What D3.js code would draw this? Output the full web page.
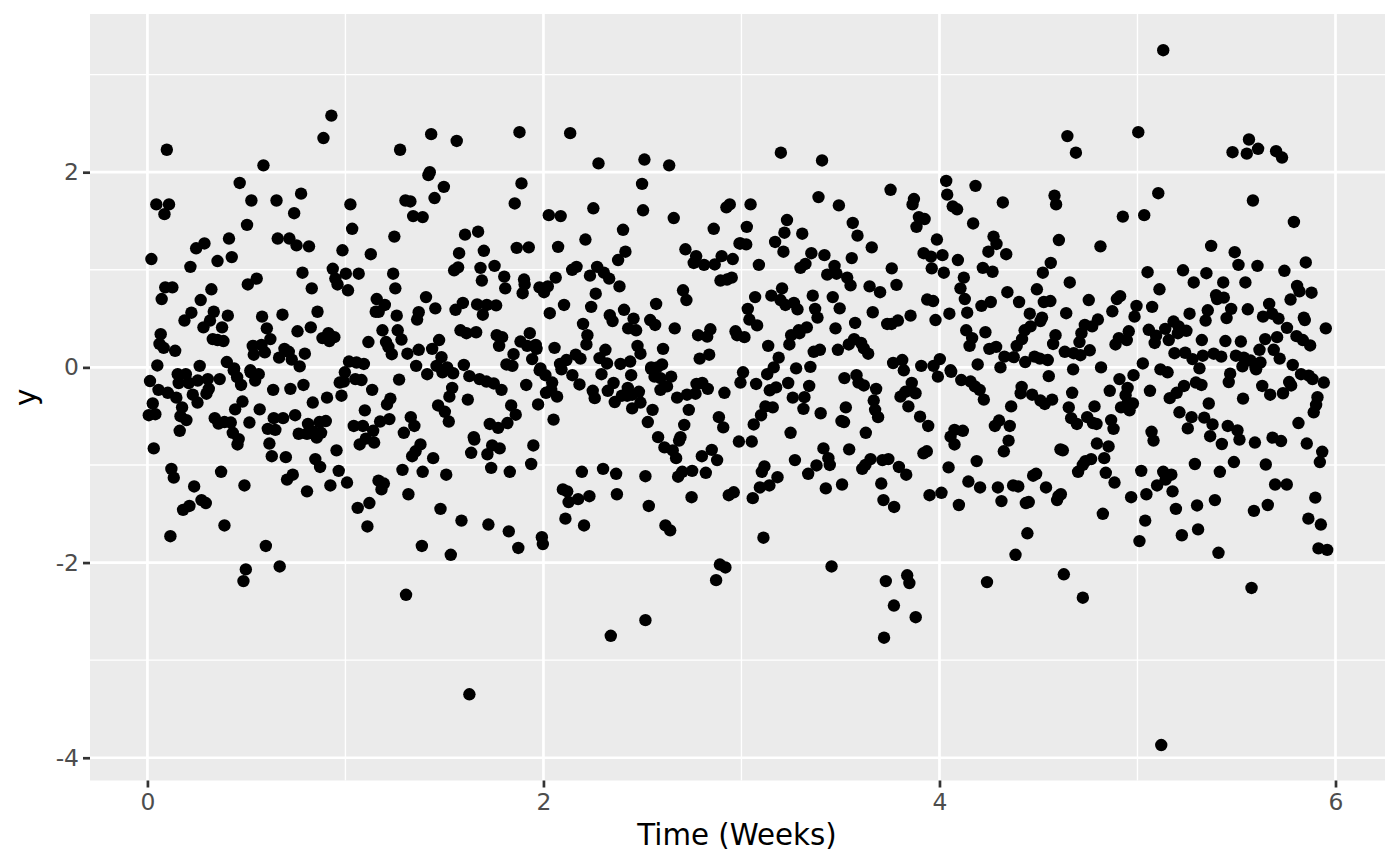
<!DOCTYPE html>
<html>
<head>
<meta charset="utf-8">
<script src="https://cdn.jsdelivr.net/npm/d3@7"></script>
<style>
  html, body { margin: 0; padding: 0; background: #fff; }
  svg { display: block; }
</style>
</head>
<body>
<svg id="chart" width="1400" height="866"></svg>
<script>
const xMajor = [0, 2, 4, 6];
const xMinor = [1, 3, 5];
const yMajor = [-4, -2, 0, 2];
const yMinor = [-3, -1, 1, 3];
const xTitle = "Time (Weeks)";
const yTitle = "y";

// [time in weeks, y], week by week-ish
const upperLeft = [[.098,2.23],[.889,2.35],[1.276,2.23],[.586,2.07],[.466,1.89],[.045,1.67],[.109,1.67],[.086,1.57],[.525,1.71],[.652,1.71],[.776,1.78],[.741,1.58],[1.025,1.67],[1.303,1.71],[1.328,1.70],[1.342,1.55],[1.034,1.42],[.503,1.46],[.412,1.32],[.288,1.27],[.246,1.22],[.02,1.11],[.354,1.09],[.426,1.13],[.217,1.03],[.658,1.32],[.717,1.32],[.753,1.25],[.816,1.24],[1.247,1.34],[.985,1.20],[1.128,1.16],[.936,1.01],[1.002,.96],[1.067,.96],[.783,.97],[1.241,.96],[1.252,.81],[.949,.91],[.96,.85],[1.013,.79],[.83,.81],[.552,.91],[.507,.85],[.126,.82],[.09,.82],[.072,.70],[.323,.80],[.269,.69],[.222,.56],[.187,.48],[.335,.57],[.316,.48],[.283,.41],[.406,.53],[.377,.41],[.579,.52],[.682,.54],[.603,.40],[.621,.29],[.859,.57],[.825,.41],[.758,.37],[.914,.35],[.884,.30],[.919,.27],[.944,.31],[.067,.34],[.061,.24],[.082,.20],[.14,.17],[.33,.29],[.354,.28],[.384,.27],[.532,.22],[.576,.23],[.537,.13],[.593,.155],[.692,.19],[.714,.16],[.665,.10],[.729,.08],[.795,.14],[.769,.01],[1.158,.70],[1.199,.64],[1.153,.57],[1.168,.57],[1.259,.53],[1.37,.565],[1.362,.49],[1.187,.38],[1.264,.38],[1.283,.285],[1.205,.26],[1.217,.21],[1.234,.135],[1.313,.14],[1.37,.18],[1.116,.26],[1.018,.06],[1.056,.05],[1.093,.035],[1.357,.015],[.05,.02],[.264,.015],[.401,.055],[.438,-.01],[.52,-.03],[.929,2.58]];

const lowerLeft = [[.013,-.14],[.056,-.23],[.103,-.26],[.146,-.31],[.153,-.07],[.194,-.07],[.158,-.16],[.209,-.16],[.254,-.135],[.305,-.12],[.31,-.22],[.298,-.27],[.229,-.28],[.253,-.36],[.175,-.41],[.027,-.37],[.007,-.49],[.04,-.48],[.167,-.50],[.197,-.54],[.163,-.65],[.032,-.83],[.365,-.12],[.436,-.03],[.453,-.10],[.473,-.18],[.522,-.05],[.562,-.07],[.544,-.135],[.48,-.35],[.443,-.43],[.567,-.43],[.635,-.23],[.722,-.22],[.788,-.18],[.835,-.36],[.907,-.31],[.98,-.29],[.997,-.05],[.971,-.155],[.992,-.145],[1.05,-.12],[1.081,-.13],[1.135,-.23],[1.271,-.125],[1.227,-.32],[1.21,-.38],[1.098,-.44],[1.222,-.53],[1.175,-.555],[1.14,-.65],[1.042,-.60],[1.088,-.60],[1.33,-.51],[1.348,-.60],[1.295,-.67],[1.103,-.73],[1.072,-.79],[1.145,-.77],[.34,-.52],[.359,-.575],[.389,-.56],[.421,-.565],[.515,-.565],[.431,-.67],[.461,-.735],[.455,-.79],[.638,-.52],[.685,-.52],[.746,-.49],[.608,-.63],[.646,-.64],[.616,-.78],[.628,-.91],[.699,-.92],[.764,-.68],[.811,-.58],[.806,-.68],[.84,-.66],[.869,-.56],[.901,-.55],[.877,-.67],[.855,-.72],[.955,-.85],[.848,-.94],[.872,-1.02],[.966,-1.06],[.924,-1.21],[1.008,-1.18],[.806,-1.27],[.734,-1.10],[.705,-1.15],[.49,-1.21],[.372,-1.07],[.121,-1.04],[.133,-1.13],[.236,-1.22],[.273,-1.36],[.295,-1.39],[.212,-1.42],[.18,-1.46],[.389,-1.62],[.116,-1.73],[.598,-1.83],[.497,-2.07],[.668,-2.04],[.485,-2.19],[1.121,-1.39],[1.062,-1.44],[1.111,-1.63],[1.167,-1.16],[1.194,-1.19],[1.182,-1.25],[1.288,-1.05],[1.318,-1.30],[1.39,-1.07],[1.379,-.79],[1.354,-.86],[1.337,-.91],[1.386,-1.83],[1.306,-2.33]];

const upperMidLeft = [[1.433,2.39],[1.562,2.32],[1.879,2.41],[2.135,2.40],[2.278,2.09],[2.51,2.13],[2.635,2.07],[2.498,1.88],[1.426,2.0],[1.419,1.97],[1.497,1.85],[1.45,1.735],[1.889,1.885],[1.855,1.68],[1.39,1.54],[2.027,1.56],[2.087,1.55],[2.252,1.63],[2.503,1.61],[2.658,1.53],[2.941,1.67],[2.924,1.64],[2.86,1.42],[2.402,1.41],[2.212,1.31],[2.414,1.185],[2.377,1.10],[1.604,1.36],[1.67,1.39],[1.574,1.17],[1.699,1.195],[1.569,1.025],[1.549,.995],[1.682,1.02],[1.753,1.04],[1.689,.89],[1.802,.93],[1.807,.81],[1.865,1.225],[1.926,1.23],[2.074,1.235],[1.902,.90],[1.905,.85],[1.895,.76],[1.98,.82],[2.022,.83],[2.003,.77],[2.062,.92],[2.167,1.03],[2.145,1.0],[2.235,.94],[2.271,1.03],[2.305,.97],[2.332,.91],[2.384,.83],[2.264,.755],[2.104,.64],[2.241,.62],[2.032,.555],[2.407,.59],[2.335,.535],[2.349,.475],[2.2,.445],[2.222,.33],[2.217,.235],[2.056,.20],[1.931,.35],[2.455,.50],[2.428,.40],[2.468,.38],[2.539,.485],[2.564,.435],[2.569,.65],[2.663,.40],[2.705,.79],[2.722,.69],[2.717,1.21],[2.771,1.14],[2.759,1.07],[2.811,1.05],[2.865,1.055],[2.9,1.14],[2.956,1.11],[2.99,1.27],[2.894,.89],[2.927,.90],[2.951,.92],[1.407,.72],[1.454,.605],[1.593,.66],[1.556,.59],[1.665,.645],[1.714,.64],[1.761,.635],[1.694,.54],[1.581,.38],[1.611,.35],[1.66,.36],[1.764,.33],[1.791,.31],[1.776,.22],[1.884,.265],[1.918,.22],[1.961,.23],[1.965,.19],[1.943,.085],[1.849,.135],[1.813,.03],[1.843,.015],[1.473,.28],[1.438,.19],[1.485,.105],[1.598,.025],[1.46,.015],[1.514,0],[1.985,-.01],[2.084,.035],[2.116,.075],[2.163,.13],[2.187,.09],[2.283,.095],[2.313,.18],[2.321,.04],[2.389,.035],[2.438,.06],[2.475,.22],[2.49,.14],[2.604,.19],[2.544,0],[2.599,.03],[2.789,.09],[2.837,.13],[2.781,.33],[2.827,.315],[2.843,.39],[2.970,.37],[2.978,.33]];

const lowerMidLeft = [[1.413,-.07],[1.49,-.05],[1.544,-.06],[1.626,-.09],[1.677,-.12],[1.712,-.145],[1.749,-.165],[1.788,-.23],[1.913,-.18],[1.539,-.21],[1.525,-.30],[1.618,-.33],[1.468,-.39],[1.502,-.455],[1.522,-.555],[1.837,-.39],[1.86,-.485],[1.818,-.57],[1.771,-.62],[1.729,-.58],[1.973,-.38],[2.051,-.535],[1.981,-.03],[2.01,-.08],[2.044,-.155],[2.013,-.26],[2.039,-.23],[2.069,-.30],[2.091,-.02],[2.146,-.08],[2.182,-.175],[2.249,-.24],[2.259,-.315],[2.293,-.07],[2.443,-.08],[2.354,-.16],[2.325,-.24],[2.36,-.355],[2.426,-.21],[2.396,-.29],[2.423,-.29],[2.448,-.28],[2.482,-.25],[2.49,-.36],[2.448,-.42],[2.551,-.435],[2.527,-.56],[2.544,-.015],[2.574,0],[2.561,-.095],[2.591,-.11],[2.645,-.095],[2.624,-.195],[2.591,-.23],[2.675,-.31],[2.725,-.28],[2.768,-.27],[2.773,-.17],[2.802,-.16],[2.83,-.22],[2.914,-.26],[2.734,-.435],[2.886,-.51],[2.908,-.615],[2.711,-.59],[2.692,-.715],[2.685,-.75],[2.579,-.715],[2.611,-.82],[2.653,-.85],[2.670,-.93],[2.80,-.91],[2.85,-.845],[2.877,-.95],[2.820,-1.08],[2.751,-1.06],[2.701,-1.07],[2.68,-1.12],[2.515,-1.115],[2.367,-1.09],[2.301,-1.04],[2.194,-1.07],[2.12,-1.27],[2.098,-1.25],[2.127,-1.38],[2.175,-1.35],[2.232,-1.32],[2.371,-1.30],[2.532,-1.42],[2.748,-1.33],[2.961,-1.28],[2.936,-1.31],[2.111,-1.55],[2.205,-1.62],[2.616,-1.62],[2.640,-1.67],[2.891,-2.02],[2.919,-2.05],[2.872,-2.18],[1.648,-.715],[1.651,-.74],[1.635,-.875],[1.741,-.80],[1.779,-.83],[1.717,-.89],[1.949,-.80],[1.938,-.99],[1.736,-1.03],[1.830,-1.07],[1.443,-.93],[1.509,-1.10],[1.48,-1.45],[1.586,-1.57],[1.722,-1.61],[1.825,-1.68],[1.992,-1.74],[1.997,-1.81],[1.873,-1.85],[1.532,-1.92],[1.626,-3.35],[2.34,-2.75],[2.515,-2.59]];

const upperMidRight = [[3.199,2.20],[3.407,2.12],[3.389,1.745],[3.492,1.66],[3.753,1.82],[3.871,1.725],[3.864,1.67],[4.034,1.91],[4.039,1.77],[4.182,1.86],[4.32,1.69],[4.067,1.65],[4.089,1.62],[4.581,1.76],[4.589,1.67],[3.046,1.67],[3.027,1.44],[3.23,1.51],[3.217,1.38],[3.307,1.37],[3.170,1.285],[3.212,1.185],[2.995,1.27],[3.024,1.26],[3.088,1.05],[3.353,1.17],[3.323,1.06],[3.298,1.02],[3.419,1.15],[3.562,1.48],[3.586,1.35],[3.658,1.23],[3.557,1.12],[3.47,1.04],[3.433,.95],[3.48,.96],[3.534,.92],[3.551,.84],[3.647,.83],[3.7,.77],[3.759,1.015],[3.783,.845],[3.896,1.54],[3.925,1.52],[3.884,1.44],[3.987,1.31],[3.92,1.17],[3.957,1.135],[4.015,1.15],[3.961,1.015],[4.022,.97],[4.093,1.10],[4.17,1.475],[4.273,1.34],[4.288,1.265],[4.247,1.185],[4.337,1.16],[4.219,1.02],[4.268,.98],[4.123,.92],[4.106,.81],[4.128,.70],[4.562,1.07],[4.522,.97],[4.603,1.305],[4.492,.80],[4.343,.77],[4.402,.67],[4.259,.67],[4.212,.63],[4.14,.56],[4.05,.55],[3.938,.695],[3.968,.68],[3.98,.485],[3.854,.53],[3.79,.48],[3.736,.445],[3.758,.445],[3.663,.565],[3.574,.455],[3.475,.40],[3.496,.605],[3.461,.72],[3.36,.735],[3.372,.60],[3.384,.51],[3.205,.81],[3.151,.735],[3.197,.69],[3.222,.64],[3.265,.66],[3.283,.595],[3.069,.72],[3.032,.60],[3.04,.49],[3.079,.43],[3.015,.31],[3.135,.22],[3.188,.10],[3.163,0],[3.242,.235],[3.251,.33],[3.289,.38],[3.33,.41],[3.293,.35],[3.365,.16],[3.396,.18],[3.487,.18],[3.542,.235],[3.569,.29],[3.604,.25],[3.618,.195],[3.64,.14],[3.276,-.01],[3.348,.005],[3.766,.045],[3.812,.075],[3.908,.015],[3.97,.015],[4.002,.085],[4.056,-.03],[4.193,.03],[4.308,0],[4.135,.38],[4.232,.36],[4.165,.30],[4.152,.22],[4.252,.19],[4.286,.21],[4.43,.38],[4.46,.42],[4.510,.475],[4.518,.51],[4.456,.55],[4.527,.67],[4.56,.68],[4.417,.29],[4.39,.22],[4.328,.11],[4.375,.105],[4.433,.055],[4.480,.11],[4.507,.09],[4.547,.075],[4.574,.24],[4.586,.33]];

const lowerMidRight = [[3.008,-.05],[2.995,-.155],[3.074,-.17],[3.13,-.07],[3.236,-.16],[3.175,-.205],[3.143,-.235],[3.342,-.19],[3.259,-.31],[3.318,-.305],[3.313,-.425],[3.4,-.47],[3.121,-.40],[3.158,-.41],[3.099,-.49],[3.062,-.585],[2.987,-.76],[3.052,-.76],[3.248,-.67],[3.52,-.11],[3.581,-.08],[3.591,-.155],[3.618,-.185],[3.68,-.22],[3.668,-.34],[3.675,-.435],[3.69,-.51],[3.527,-.41],[3.505,-.55],[3.518,-.56],[3.628,-.67],[3.544,-.84],[3.414,-.83],[3.439,-.93],[3.446,-1.0],[3.379,-1.005],[3.27,-.95],[3.337,-1.09],[3.426,-1.24],[3.508,-1.2],[3.116,-1.015],[3.103,-1.07],[3.182,-1.125],[3.141,-1.21],[3.093,-1.23],[3.057,-1.34],[3.111,-1.745],[3.455,-2.04],[3.652,-.94],[3.626,-1.0],[3.61,-1.04],[3.712,-.95],[3.742,-.94],[3.795,-1.02],[3.832,-1.10],[3.706,-1.19],[3.717,-1.36],[3.771,-1.43],[3.919,-.88],[3.936,-.86],[3.95,-1.31],[4.01,-1.285],[4.098,-1.41],[4.046,-1.025],[4.188,-.96],[4.146,-1.17],[4.205,-1.23],[4.295,-1.23],[4.372,-1.21],[4.398,-1.22],[4.473,-1.11],[4.488,-1.09],[4.538,-1.23],[4.313,-1.37],[4.436,-1.39],[4.451,-1.38],[4.601,-1.32],[4.594,-1.36],[4.444,-1.70],[4.384,-1.92],[4.611,-.84],[4.325,-.86],[4.349,-.75],[4.355,-.6],[4.28,-.60],[4.301,-.545],[4.076,-.64],[4.056,-.71],[4.076,-.79],[4.118,-.65],[3.943,-.60],[3.902,-.505],[3.843,-.40],[3.803,-.30],[3.828,-.25],[3.86,-.16],[3.879,-.265],[3.82,-.03],[3.992,-.095],[4.059,-.045],[4.11,-.13],[4.157,-.145],[4.179,-.195],[4.203,-.23],[4.224,-.33],[4.362,-.40],[4.415,-.20],[4.41,-.265],[4.468,-.28],[4.510,-.34],[4.532,-.375],[4.569,-.33],[4.552,-.09],[3.729,-2.19],[3.837,-2.13],[3.848,-2.21],[4.24,-2.2],[3.77,-2.44],[3.72,-2.77],[3.88,-2.56]];

const upperRight = [[4.646,2.37],[4.689,2.20],[5.004,2.41],[5.563,2.335],[5.48,2.205],[5.552,2.19],[5.609,2.24],[5.7,2.215],[5.73,2.15],[5.105,1.785],[5.583,1.71],[4.926,1.545],[5.034,1.56],[5.79,1.49],[4.813,1.24],[5.372,1.245],[5.491,1.18],[5.51,1.05],[5.606,1.04],[5.85,1.075],[5.742,.99],[5.051,.975],[5.23,.995],[5.348,.965],[5.284,.87],[5.433,.87],[5.545,.87],[4.658,.87],[5.111,.80],[5.397,.74],[5.436,.715],[5.402,.70],[4.912,.73],[4.896,.70],[4.754,.69],[4.64,.555],[4.873,.575],[4.995,.63],[4.985,.52],[5.074,.62],[5.263,.55],[5.355,.585],[5.344,.48],[5.45,.505],[5.473,.60],[5.557,.595],[5.634,.52],[5.665,.65],[5.68,.55],[5.712,.50],[5.773,.695],[5.806,.835],[5.818,.78],[5.879,.765],[5.84,.51],[5.845,.485],[5.755,.405],[5.951,.40],[4.8,.49],[4.771,.42],[4.734,.435],[4.717,.35],[4.707,.26],[4.633,.16],[4.678,.145],[4.712,.125],[4.759,.175],[4.956,.37],[4.906,.30],[4.946,.28],[4.889,.235],[5.057,.385],[5.094,.325],[5.14,.395],[5.087,.25],[5.158,.28],[5.182,.47],[5.208,.42],[5.204,.35],[5.247,.375],[5.187,.145],[5.241,.15],[5.278,.085],[5.33,.12],[5.385,.14],[5.423,.11],[5.325,.28],[5.444,.27],[5.522,.265],[5.645,.29],[5.705,.31],[5.616,.18],[5.688,.18],[5.718,.09],[5.803,.32],[5.835,.28],[5.872,.225],[5.784,.025],[5.497,.12],[5.537,.10],[5.571,.07],[5.621,.05],[5.53,.01],[5.596,0],[5.027,.04],[5.116,-.02],[5.313,-.01],[4.675,-.02],[4.816,0],[5.13,3.25]];

const lowerRight = [[4.909,-.12],[4.98,-.08],[4.86,-.24],[4.95,-.21],[4.94,-.285],[5.063,-.24],[5.152,-.05],[4.67,-.26],[4.653,-.41],[4.783,-.40],[4.665,-.52],[4.694,-.58],[4.746,-.51],[4.775,-.57],[4.793,-.58],[4.867,-.54],[4.879,-.63],[4.917,-.41],[4.951,-.36],[4.977,-.37],[4.96,-.44],[4.623,-.85],[4.795,-.78],[4.854,-.81],[4.832,-.93],[4.766,-.94],[4.737,-.96],[4.724,-1.0],[4.7,-1.07],[4.84,-1.08],[4.884,-1.18],[5.019,-1.06],[5.13,-1.07],[5.171,-1.10],[5.142,-1.15],[5.099,-1.21],[5.045,-1.30],[4.968,-1.33],[5.177,-1.27],[5.194,-1.45],[5.301,-1.415],[5.391,-1.36],[5.039,-1.57],[4.825,-1.50],[5.01,-1.78],[5.224,-1.72],[5.306,-1.66],[5.409,-1.90],[4.613,-1.30],[4.628,-2.12],[4.724,-2.36],[5.576,-2.26],[5.071,-.66],[5.081,-.75],[5.163,-.315],[5.198,-.26],[5.235,-.19],[5.295,-.155],[5.323,-.18],[5.212,-.46],[5.273,-.51],[5.254,-.625],[5.337,-.515],[5.379,-.585],[5.367,-.705],[5.426,-.785],[5.36,-.37],[5.456,-.60],[5.505,-.645],[5.515,-.74],[5.593,-.77],[5.682,-.72],[5.725,-.755],[5.855,-.78],[5.933,-.865],[5.921,-.97],[5.813,-.57],[5.890,-.46],[5.902,-.385],[5.909,-.305],[5.941,-.155],[5.884,-.12],[5.865,-.085],[5.826,-.07],[5.766,-.15],[5.776,-.185],[5.735,-.265],[5.67,-.28],[5.63,-.19],[5.533,-.32],[5.468,-.065],[5.461,-.15],[5.599,-.02],[5.487,-.97],[5.29,-.99],[5.416,-1.07],[5.648,-.995],[5.695,-1.2],[5.754,-1.2],[5.658,-1.41],[5.588,-1.47],[5.898,-1.335],[5.863,-1.55],[5.926,-1.61],[5.914,-1.855],[5.958,-1.87],[5.12,-3.87]];

const points = [upperLeft, lowerLeft, upperMidLeft, lowerMidLeft, upperMidRight, lowerMidRight, upperRight, lowerRight].flat();

const panel = {left: 90, right: 1385, top: 14, bottom: 780.5};

const x = d3.scaleLinear().domain([-0.29, 6.25]).range([panel.left, panel.right]);
const y = d3.scaleLinear().domain([-4.233, 3.621]).range([panel.bottom, panel.top]);

const svg = d3.select("#chart").attr("font-family", "'DejaVu Sans', sans-serif");

svg.append("rect")
    .attr("x", panel.left)
    .attr("y", panel.top)
    .attr("width", panel.right - panel.left)
    .attr("height", panel.bottom - panel.top)
    .attr("fill", "#EBEBEB");

// minor grid first, major on top
const grid = svg.append("g").attr("stroke", "#fff").attr("fill", "none");

grid.append("g").selectAll("line").data(xMinor).join("line")
    .attr("x1", d => x(d)).attr("x2", d => x(d))
    .attr("y1", panel.top).attr("y2", panel.bottom)
    .attr("stroke-width", 1.35);
grid.append("g").selectAll("line").data(yMinor).join("line")
    .attr("y1", d => y(d)).attr("y2", d => y(d))
    .attr("x1", panel.left).attr("x2", panel.right)
    .attr("stroke-width", 1.35);
grid.append("g").selectAll("line").data(xMajor).join("line")
    .attr("x1", d => x(d)).attr("x2", d => x(d))
    .attr("y1", panel.top).attr("y2", panel.bottom)
    .attr("stroke-width", 2.7);
grid.append("g").selectAll("line").data(yMajor).join("line")
    .attr("y1", d => y(d)).attr("y2", d => y(d))
    .attr("x1", panel.left).attr("x2", panel.right)
    .attr("stroke-width", 2.7);

svg.append("g")
    .attr("fill", "#000")
  .selectAll("circle")
  .data(points)
  .join("circle")
    .attr("cx", d => x(d[0]))
    .attr("cy", d => y(d[1]))
    .attr("r", 6.2);

const xAxis = svg.append("g")
    .attr("transform", `translate(0,${panel.bottom})`)
    .call(d3.axisBottom(x).tickValues(xMajor).tickFormat(d3.format("d")).tickSize(7).tickPadding(5.5));
const yAxis = svg.append("g")
    .attr("transform", `translate(${panel.left},0)`)
    .call(d3.axisLeft(y).tickValues(yMajor).tickFormat(d => String(d)).tickSize(7).tickPadding(4));

for (const axis of [xAxis, yAxis]) {
  axis.select(".domain").remove();
  axis.selectAll("line").attr("stroke", "#333").attr("stroke-width", 2.7);
  axis.selectAll("text")
      .attr("fill", "#4D4D4D")
      .attr("font-family", "'DejaVu Sans', sans-serif")
      .attr("font-size", 23.4);
}

svg.append("text")
    .attr("x", 737)
    .attr("y", 845)
    .attr("text-anchor", "middle")
    .attr("font-size", 29.3)
    .attr("fill", "#000")
    .text(xTitle);

svg.append("text")
    .attr("transform", `translate(36,${(panel.top + panel.bottom) / 2}) rotate(-90)`)
    .attr("text-anchor", "middle")
    .attr("font-size", 29.3)
    .attr("fill", "#000")
    .text(yTitle);
</script>
</body>
</html>
